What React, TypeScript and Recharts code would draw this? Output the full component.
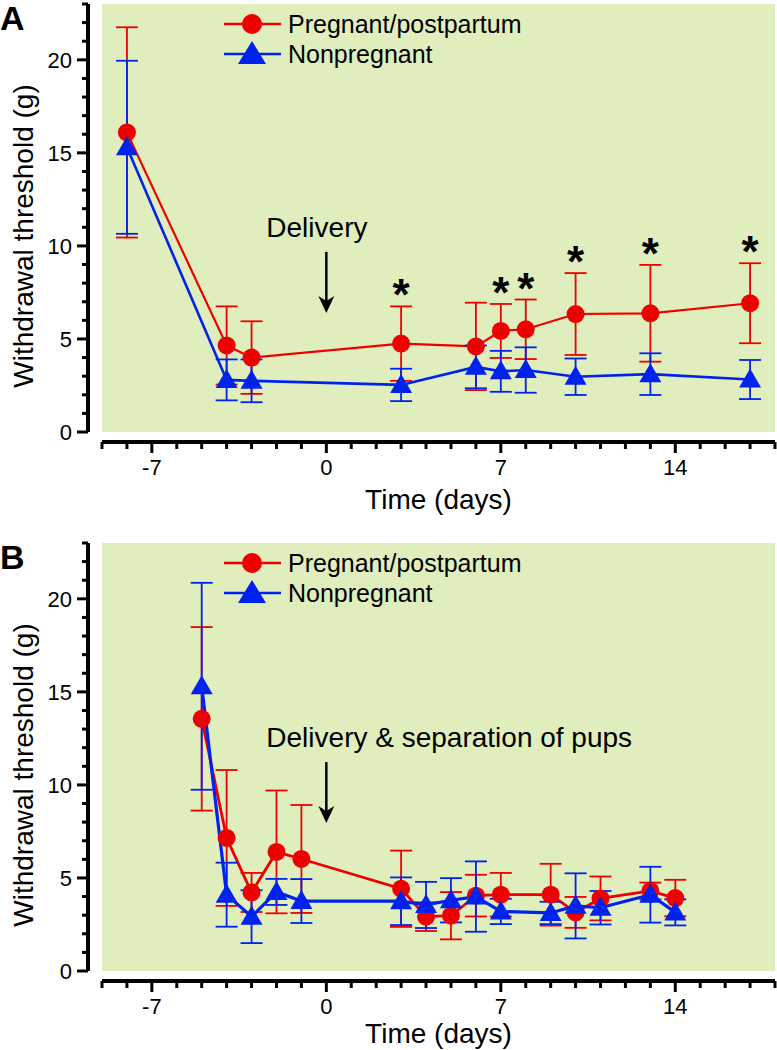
import React from 'react';
import {
  ComposedChart, Line, Scatter, XAxis, YAxis, CartesianGrid, ErrorBar, Legend, ReferenceDot, Label,
} from 'recharts';

const RED = '#ee0000';
const BLUE = '#0022ee';
const BG = '#dfeebc';
const FONT = '"Liberation Sans", Arial, sans-serif';

// Panel A: mean withdrawal threshold (g) and error per day
const daysA = [-8, -4, -3, 3, 6, 7, 8, 10, 13, 17];
const pregA = [16.1, 4.65, 4.0, 4.75, 4.6, 5.43, 5.52, 6.34, 6.38, 6.92];
const pregErrA = [5.65, 2.1, 1.95, 2.0, 2.35, 1.45, 1.6, 2.2, 2.6, 2.15];
const nonA = [15.3, 2.8, 2.75, 2.53, 3.5, 3.26, 3.33, 2.97, 3.11, 2.82];
const nonErrA = [4.65, 1.1, 1.15, 0.87, 1.15, 1.1, 1.22, 0.98, 1.12, 1.05];
const sigA = [false, false, false, true, false, true, true, true, true, true];

// Panel B
const daysB = [-5, -4, -3, -2, -1, 3, 4, 5, 6, 7, 9, 10, 11, 13, 14];
const pregB = [13.55, 7.15, 4.22, 6.4, 6.02, 4.42, 2.92, 2.97, 4.05, 4.1, 4.1, 3.15, 3.9, 4.3, 3.92];
const pregErrB = [4.93, 3.65, 1.05, 3.3, 2.9, 2.05, 0.77, 1.27, 1.12, 1.17, 1.66, 0.83, 1.18, 0.45, 0.98];
const nonB = [15.3, 4.1, 2.92, 4.25, 3.76, 3.75, 3.55, 3.8, 4.0, 3.2, 3.12, 3.5, 3.4, 4.1, 3.15];
const nonErrB = [5.56, 1.72, 1.42, 0.7, 1.18, 1.28, 1.24, 1.19, 1.89, 0.68, 0.6, 1.75, 0.9, 1.5, 0.7];
const sigB = daysB.map(() => false);

// axes
const xTicks = Array.from({ length: 28 }, (_, i) => i - 9);
const xMajor = [-7, 0, 7, 14];
const yTicks = Array.from({ length: 24 }, (_, i) => i);
const yMajor = [0, 5, 10, 15, 20];

function buildRows(days: number[], preg: number[], pregErr: number[], non: number[], nonErr: number[], sig: boolean[]) {
  return days.map((t, i) => ({
    t,
    preg: preg[i],
    pregErr: pregErr[i],
    non: non[i],
    nonErr: nonErr[i],
    star: sig[i] ? preg[i] + pregErr[i] : null,
  }));
}

const XTick = (p: any) => {
  const major = xMajor.includes(p.payload.value);
  return (
    <g>
      <line x1={p.x} x2={p.x} y1={p.y + 10} y2={p.y + (major ? 21 : 17)} stroke="#000" strokeWidth={3} />
      {major && (
        <text x={p.x} y={p.y + 43} textAnchor="middle" fontSize={22} fill="#000">{p.payload.value}</text>
      )}
    </g>
  );
};

const YTick = (p: any) => {
  const major = yMajor.includes(p.payload.value);
  return (
    <g>
      <line x1={p.x - 14} x2={p.x - 14 - (major ? 11 : 6)} y1={p.y} y2={p.y} stroke="#000" strokeWidth={3} />
      {major && (
        <text x={p.x - 30} y={p.y + 8} textAnchor="end" fontSize={22} fill="#000">{p.payload.value}</text>
      )}
    </g>
  );
};

const triangle = (w: number, up: number, down: number) => (p: any) => (
  <polygon
    key={`tri-${p.index}`}
    points={`${p.cx},${p.cy - up} ${p.cx - w},${p.cy + down} ${p.cx + w},${p.cy + down}`}
    fill={BLUE}
  />
);

const LegendBox = () => (
  <svg width={320} height={72} style={{ fontFamily: FONT }}>
    <line x1={4} x2={61} y1={16} y2={16} stroke={RED} strokeWidth={2.5} />
    <circle cx={32} cy={16} r={10} fill={RED} />
    <text x={68} y={25} fontSize={25} fill="#000">Pregnant/postpartum</text>
    <line x1={4} x2={61} y1={46} y2={46} stroke={BLUE} strokeWidth={2.5} />
    <polygon points="32,33 18,56 46,56" fill={BLUE} />
    <text x={68} y={55} fontSize={25} fill="#000">Nonpregnant</text>
  </svg>
);

function Panel(props: any) {
  const { rows, height, letter, note, noteY, titleDy, lineW } = props;
  const stars = rows.filter((r: any) => r.star != null);
  return (
    <ComposedChart width={777} height={height} data={rows} margin={{ top: 4, right: 2, bottom: 0, left: 0 }}>
      <CartesianGrid fill={BG} horizontal={false} vertical={false} stroke="none" />
      <XAxis
        dataKey="t"
        type="number"
        domain={[-9, 18]}
        ticks={xTicks}
        interval={0}
        height={height - 432}
        tickSize={0}
        tickMargin={0}
        tickLine={false}
        axisLine={{ stroke: '#000', strokeWidth: 4, transform: 'translate(0,10)' }}
        tick={<XTick />}
      >
        <Label
          content={(lp: any) => (
            <text x={lp.viewBox.x + lp.viewBox.width / 2} y={lp.viewBox.y + titleDy} textAnchor="middle" fontSize={28} fill="#000">
              Time (days)
            </text>
          )}
        />
      </XAxis>
      <YAxis
        type="number"
        domain={[0, 23]}
        ticks={yTicks}
        interval={0}
        width={102}
        tickSize={0}
        tickMargin={0}
        tickLine={false}
        axisLine={{ stroke: '#000', strokeWidth: 4, transform: 'translate(-14,0)' }}
        tick={<YTick />}
      >
        <Label
          content={(lp: any) => {
            const cy = lp.viewBox.y + lp.viewBox.height / 2 + 18;
            return (
              <g>
                <text transform={`translate(33,${cy}) rotate(-90)`} textAnchor="middle" fontSize={28} fill="#000">
                  Withdrawal threshold (g)
                </text>
                <text x={0} y={30} fontSize={34} fontWeight="bold" fill="#000">{letter}</text>
              </g>
            );
          }}
        />
      </YAxis>
      <Legend content={<LegendBox />} layout="vertical" align="center" verticalAlign="middle"
        wrapperStyle={{ left: 220, top: 8, width: 320, height: 72 }} />
      <ReferenceDot
        x={0}
        y={noteY}
        r={0}
        shape={(p: any) => (
          <g>
            <line x1={p.cx} x2={p.cx} y1={p.cy - 61} y2={p.cy - 8} stroke="#000" strokeWidth={2.5} />
            <polygon points={`${p.cx},${p.cy} ${p.cx - 8},${p.cy - 17} ${p.cx},${p.cy - 12} ${p.cx + 8},${p.cy - 17}`} fill="#000" />
            <text x={p.cx - 60} y={p.cy - 76} fontSize={28} fill="#000">{note}</text>
          </g>
        )}
      />
      <Line
        dataKey="preg"
        name="Pregnant/postpartum"
        type="linear"
        stroke={RED}
        strokeWidth={lineW}
        dot={{ r: 9, fill: RED, stroke: 'none' }}
        activeDot={false}
        isAnimationActive={false}
      >
        <ErrorBar dataKey="pregErr" width={11} stroke={RED} strokeWidth={1.8} direction="y" />
      </Line>
      <Line
        dataKey="non"
        name="Nonpregnant"
        type="linear"
        stroke={BLUE}
        strokeWidth={lineW + 0.4}
        dot={triangle(11, 11, 8)}
        activeDot={false}
        isAnimationActive={false}
      >
        <ErrorBar dataKey="nonErr" width={11} stroke={BLUE} strokeWidth={1.8} direction="y" />
      </Line>
      {stars.length > 0 && (
        <Scatter
          data={stars}
          dataKey="star"
          isAnimationActive={false}
          legendType="none"
          shape={(p: any) => (
            <text x={p.cx} y={p.cy + 4} textAnchor="middle" fontSize={44} fontWeight="bold" fill="#000">*</text>
          )}
        />
      )}
    </ComposedChart>
  );
}

export default function App() {
  const rowsA = buildRows(daysA, pregA, pregErrA, nonA, nonErrA, sigA);
  const rowsB = buildRows(daysB, pregB, pregErrB, nonB, nonErrB, sigB);
  return (
    <div style={{ position: 'absolute', left: 0, top: 0, width: 777, height: 1050, background: '#fff', fontFamily: FONT }}>
      <div style={{ position: 'absolute', left: 0, top: 0 }}>
        <Panel rows={rowsA} height={525} letter="A" note="Delivery" noteY={6.4} titleDy={77} lineW={2.2} />
      </div>
      <div style={{ position: 'absolute', left: 0, top: 539 }}>
        <Panel rows={rowsB} height={511} letter="B" note="Delivery & separation of pups" noteY={7.95} titleDy={72} lineW={2.8} />
      </div>
    </div>
  );
}
